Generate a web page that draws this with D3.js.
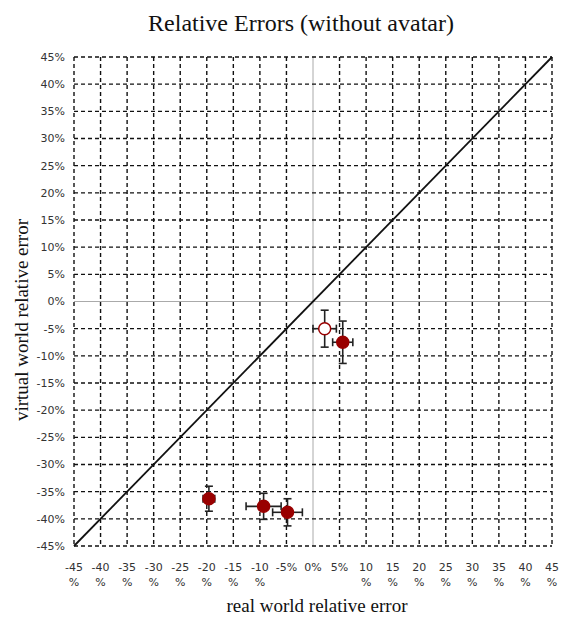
<!DOCTYPE html>
<html>
<head>
<meta charset="utf-8">
<script src="https://cdn.jsdelivr.net/npm/d3@7"></script>
<style>
  body { margin: 0; background: #fff; }
  .tick-lbl { font-family: "DejaVu Sans", Verdana, sans-serif; font-size: 11px; fill: #333; }
  .ttl { font-family: "Liberation Serif", "Times New Roman", serif; }
</style>
</head>
<body>
<svg id="chart" width="564" height="617"></svg>
<script>
const margin = {top: 57, right: 12, bottom: 71, left: 74};

// tick values (percent)
var ticks = [-45, -40, -35, -30, -25, -20, -15, -10, -5, 0, 5, 10, 15, 20, 25, 30, 35, 40, 45];

// measurements: real world error (x), virtual world error (y), with error bars
var realErr    = [2.2, 5.6, -19.6, -9.3, -4.8];
var virtualErr = [-5.0, -7.5, -36.3, -37.7, -38.8];
var realBar    = [2.2, 1.9, 1.1, 3.3, 2.8];
var virtualBar = [3.4, 3.9, 2.3, 2.4, 2.5];
var hollow     = [true, false, false, false, false];

var svg = d3.select("#chart")
var width = +svg.attr("width") - margin.left - margin.right
var height = +svg.attr("height") - margin.top - margin.bottom
var g = svg.append("g").attr("transform", `translate(${margin.left}, ${margin.top})`);

var xScale = d3.scaleLinear().domain([-45, 45]).range([0, width]);
var yScale = d3.scaleLinear().domain([-45, 45]).range([height, 0]);

// zero lines (solid grey)
g.append("line")
  .attr("x1", xScale(0)).attr("x2", xScale(0))
  .attr("y1", 0).attr("y2", height)
  .attr("stroke", "#aaa").attr("stroke-width", 1);
g.append("line")
  .attr("x1", 0).attr("x2", width)
  .attr("y1", yScale(0)).attr("y2", yScale(0))
  .attr("stroke", "#aaa").attr("stroke-width", 1);

// dashed grid
var gridTicks = ticks.filter(t => t !== 0);
g.selectAll(".vgrid").data(gridTicks).enter().append("line")
  .attr("class", "vgrid")
  .attr("x1", d => xScale(d)).attr("x2", d => xScale(d))
  .attr("y1", 0).attr("y2", height)
  .attr("stroke", "#111").attr("stroke-width", 1.4)
  .attr("stroke-dasharray", "4,3");
g.selectAll(".hgrid").data(gridTicks).enter().append("line")
  .attr("class", "hgrid")
  .attr("x1", 0).attr("x2", width)
  .attr("y1", d => yScale(d)).attr("y2", d => yScale(d))
  .attr("stroke", "#111").attr("stroke-width", 1.4)
  .attr("stroke-dasharray", "4,3");

// diagonal y = x
g.append("line")
  .attr("x1", xScale(-45)).attr("y1", yScale(-45))
  .attr("x2", xScale(45)).attr("y2", yScale(45))
  .attr("stroke", "#111").attr("stroke-width", 1.8);

// y tick labels
g.selectAll(".ylbl").data(ticks).enter().append("text")
  .attr("class", "tick-lbl")
  .attr("x", -9)
  .attr("y", d => yScale(d))
  .attr("dy", "0.35em")
  .attr("text-anchor", "end")
  .text(d => d + "%");

// x tick labels (wrap "%" when the number is wide)
var xl = g.selectAll(".xlbl").data(ticks).enter().append("text")
  .attr("class", "tick-lbl")
  .attr("text-anchor", "middle")
  .attr("transform", d => `translate(${xScale(d)}, ${height + 25})`);
xl.each(function(d) {
  var t = d3.select(this);
  if (Math.abs(d) >= 10) {
    t.append("tspan").attr("x", 0).text(String(d));
    t.append("tspan").attr("x", 0).attr("dy", 15).text("%");
  } else {
    t.append("tspan").attr("x", 0).text(d + "%");
  }
});

// error bars
var pts = realErr.map((x, i) => ({x: x, y: virtualErr[i], ex: realBar[i], ey: virtualBar[i], hollow: hollow[i]}));
var cap = 4;
var eb = g.selectAll(".eb").data(pts).enter().append("g").attr("class", "eb")
  .attr("stroke", "#222").attr("stroke-width", 1.6);
eb.append("line")
  .attr("x1", d => xScale(d.x - d.ex)).attr("x2", d => xScale(d.x + d.ex))
  .attr("y1", d => yScale(d.y)).attr("y2", d => yScale(d.y));
eb.append("line")
  .attr("x1", d => xScale(d.x)).attr("x2", d => xScale(d.x))
  .attr("y1", d => yScale(d.y - d.ey)).attr("y2", d => yScale(d.y + d.ey));
[-1, 1].forEach(function(s) {
  eb.append("line")
    .attr("x1", d => xScale(d.x + s * d.ex)).attr("x2", d => xScale(d.x + s * d.ex))
    .attr("y1", d => yScale(d.y) - cap).attr("y2", d => yScale(d.y) + cap);
  eb.append("line")
    .attr("x1", d => xScale(d.x) - cap).attr("x2", d => xScale(d.x) + cap)
    .attr("y1", d => yScale(d.y + s * d.ey)).attr("y2", d => yScale(d.y + s * d.ey));
});

// points
g.selectAll(".pt").data(pts).enter().append("circle")
  .attr("class", "pt")
  .attr("cx", d => xScale(d.x))
  .attr("cy", d => yScale(d.y))
  .attr("r", 6)
  .attr("fill", d => d.hollow ? "#fff" : "#990000")
  .attr("stroke", "#990000")
  .attr("stroke-width", 1.5);

// titles
svg.append("text").attr("class", "ttl")
  .attr("x", 301).attr("y", 31)
  .attr("text-anchor", "middle")
  .attr("font-size", 24)
  .attr("fill", "#111")
  .text("Relative Errors (without avatar)");
svg.append("text").attr("class", "ttl")
  .attr("x", 317).attr("y", 612)
  .attr("text-anchor", "middle")
  .attr("font-size", 19)
  .attr("fill", "#111")
  .text("real world relative error");
svg.append("text").attr("class", "ttl")
  .attr("transform", `translate(28, 320) rotate(-90)`)
  .attr("text-anchor", "middle")
  .attr("font-size", 19)
  .attr("fill", "#111")
  .text("virtual world relative error");
</script>
</body>
</html>
